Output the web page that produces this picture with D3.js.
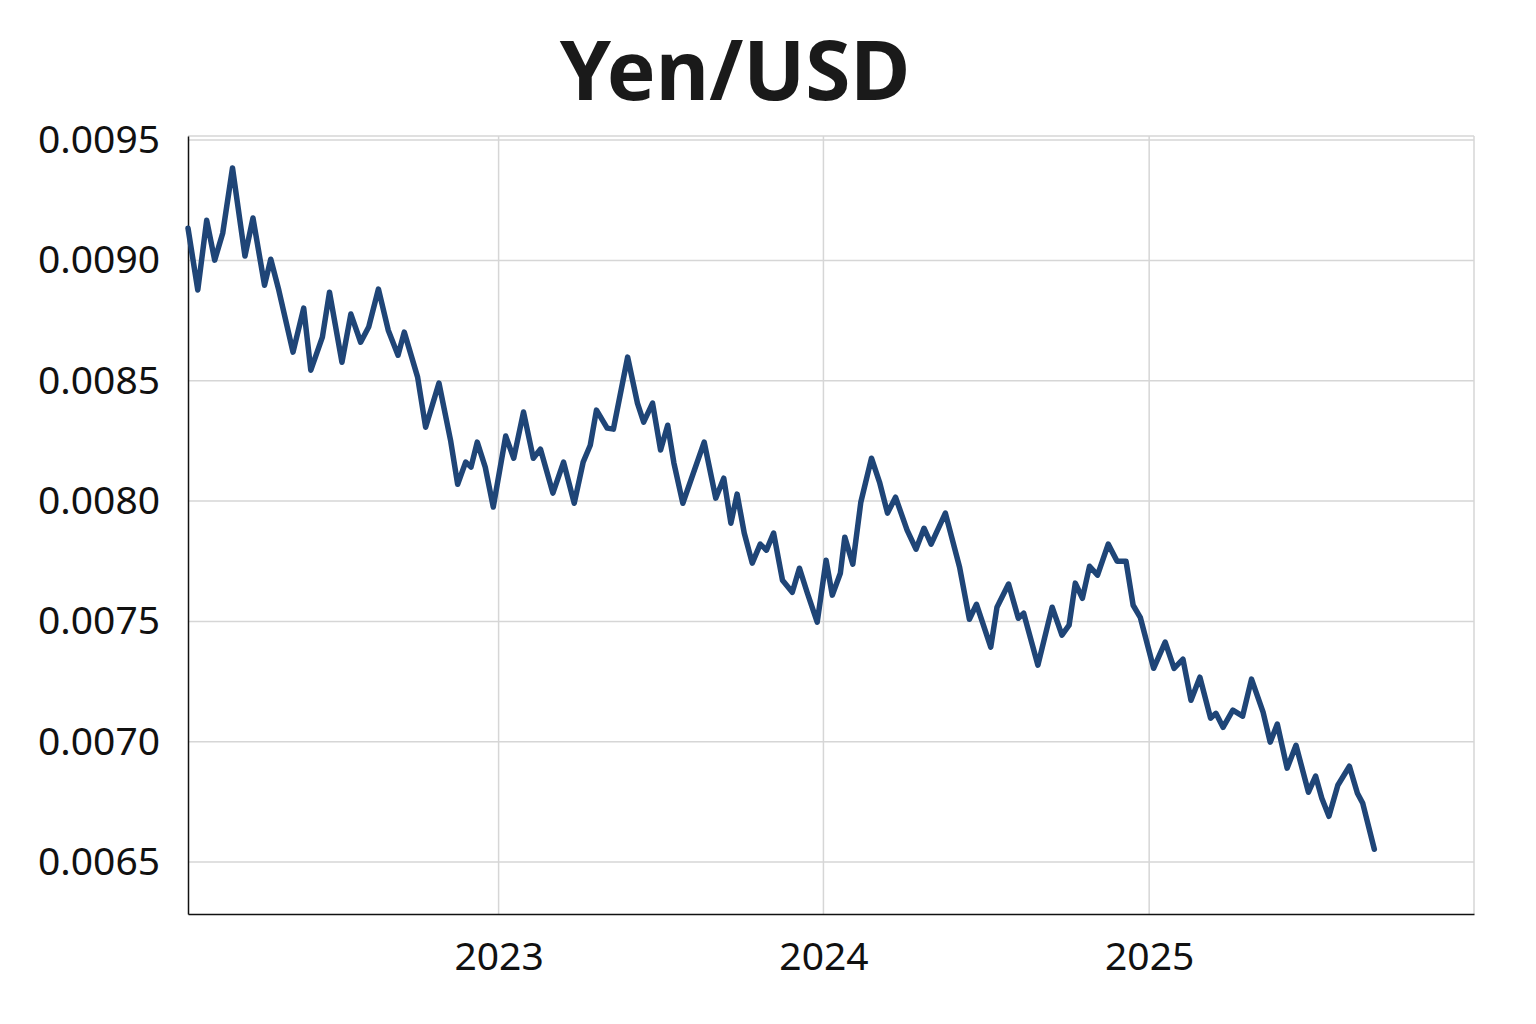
<!DOCTYPE html>
<html>
<head>
<meta charset="utf-8">
<script src="https://cdn.jsdelivr.net/npm/d3@7"></script>
<style>
  html, body { margin: 0; padding: 0; background: #ffffff; }
  svg { display: block; font-family: "Noto Sans", "Open Sans", sans-serif; }
</style>
</head>
<body>
<svg id="chart" width="1536" height="1024"></svg>
<script>
const title = "Yen/USD";
const dates = [
  "2022-01-17","2022-01-28","2022-02-07","2022-02-16","2022-02-25","2022-03-08","2022-03-22","2022-03-31",
  "2022-04-13","2022-04-20","2022-04-29","2022-05-15","2022-05-27","2022-06-04","2022-06-17","2022-06-25",
  "2022-07-09","2022-07-19","2022-07-30","2022-08-08","2022-08-19","2022-08-30","2022-09-10","2022-09-17",
  "2022-10-02","2022-10-11","2022-10-26","2022-11-08","2022-11-16","2022-11-25","2022-12-01","2022-12-08",
  "2022-12-17","2022-12-26","2023-01-09","2023-01-18","2023-01-29","2023-02-09","2023-02-17","2023-03-03",
  "2023-03-15","2023-03-27","2023-04-06","2023-04-14","2023-04-21","2023-05-03","2023-05-10","2023-05-26",
  "2023-06-06","2023-06-13","2023-06-23","2023-07-02","2023-07-10","2023-07-17","2023-07-27","2023-08-20",
  "2023-09-02","2023-09-11","2023-09-19","2023-09-26","2023-10-04","2023-10-13","2023-10-22","2023-10-29",
  "2023-11-06","2023-11-16","2023-11-27","2023-12-05","2023-12-14","2023-12-25","2024-01-04","2024-01-11",
  "2024-01-20","2024-01-25","2024-02-03","2024-02-12","2024-02-24","2024-03-04","2024-03-13","2024-03-22",
  "2024-04-04","2024-04-14","2024-04-23","2024-05-01","2024-05-17","2024-06-02","2024-06-13","2024-06-21",
  "2024-07-07","2024-07-14","2024-07-27","2024-08-07","2024-08-13","2024-08-29","2024-09-14","2024-09-25",
  "2024-10-03","2024-10-10","2024-10-18","2024-10-26","2024-11-04","2024-11-16","2024-11-26","2024-12-06",
  "2024-12-14","2024-12-22","2025-01-06","2025-01-19","2025-01-29","2025-02-08","2025-02-17","2025-02-27",
  "2025-03-11","2025-03-17","2025-03-25","2025-04-05","2025-04-16","2025-04-26","2025-05-09","2025-05-17",
  "2025-05-25","2025-06-05","2025-06-15","2025-06-29","2025-07-07","2025-07-14","2025-07-22","2025-08-01",
  "2025-08-14","2025-08-23","2025-08-29","2025-09-11"
];
const rates = [
  0.009134,0.008877,0.009167,0.009001,0.009113,0.009384,0.009018,0.009176,
  0.008897,0.009005,0.008877,0.008619,0.008802,0.008544,0.008681,0.008868,
  0.008577,0.008777,0.008660,0.008723,0.008881,0.008710,0.008606,0.008702,
  0.008515,0.008307,0.008490,0.008253,0.008070,0.008162,0.008141,0.008245,
  0.008141,0.007975,0.008270,0.008178,0.008370,0.008178,0.008216,0.008033,
  0.008162,0.007991,0.008162,0.008232,0.008378,0.008303,0.008299,0.008598,
  0.008407,0.008328,0.008407,0.008212,0.008315,0.008158,0.007991,0.008245,
  0.008012,0.008095,0.007908,0.008029,0.007867,0.007742,0.007821,0.007796,
  0.007867,0.007671,0.007621,0.007721,0.007617,0.007497,0.007754,0.007609,
  0.007700,0.007850,0.007738,0.007995,0.008178,0.008079,0.007950,0.008016,
  0.007879,0.007800,0.007887,0.007821,0.007950,0.007725,0.007509,0.007571,
  0.007393,0.007559,0.007655,0.007513,0.007534,0.007318,0.007559,0.007443,
  0.007484,0.007659,0.007596,0.007729,0.007692,0.007821,0.007750,0.007750,
  0.007567,0.007517,0.007305,0.007414,0.007305,0.007343,0.007172,0.007268,
  0.007098,0.007118,0.007060,0.007131,0.007106,0.007260,0.007123,0.006998,
  0.007073,0.006890,0.006985,0.006790,0.006857,0.006765,0.006690,0.006819,
  0.006898,0.006786,0.006744,0.006553
];
const yTicks = [0.0065, 0.0070, 0.0075, 0.0080, 0.0085, 0.0090, 0.0095];
const xTickYears = ["2023-01-01", "2024-01-01", "2025-01-01"];
const xDomain = ["2022-01-17", "2026-01-01"];
const yDomain = [0.006284, 0.009517];

(function () {
const parse = d3.utcParse("%Y-%m-%d");
const data = dates.map((d, i) => ({ date: parse(d), value: rates[i] }));

const svg = d3.select("#chart");
const mLeft = 188, mRight = 1474, mTop = 136, mBottom = 914;

const x = d3.scaleUtc().domain(xDomain.map(parse)).range([mLeft, mRight]);
const y = d3.scaleLinear().domain(yDomain).range([mBottom, mTop]);

// title
svg.append("text")
  .attr("x", 735).attr("y", 100)
  .attr("text-anchor", "middle")
  .attr("font-size", 82).attr("font-weight", 700)
  .attr("fill", "#1a1a1a")
  .text(title);

// grid: horizontal
svg.append("g").selectAll("line").data(yTicks).join("line")
  .attr("x1", mLeft).attr("x2", mRight)
  .attr("y1", d => y(d)).attr("y2", d => y(d))
  .attr("stroke", "#d6d6d6").attr("stroke-width", 1.5);
// grid: vertical
svg.append("g").selectAll("line").data(xTickYears.map(parse)).join("line")
  .attr("x1", d => x(d)).attr("x2", d => x(d))
  .attr("y1", mTop).attr("y2", mBottom)
  .attr("stroke", "#d6d6d6").attr("stroke-width", 1.5);
// top and right frame
svg.append("line").attr("x1", mLeft).attr("x2", mRight).attr("y1", mTop).attr("y2", mTop)
  .attr("stroke", "#d6d6d6").attr("stroke-width", 1.5);
svg.append("line").attr("x1", mRight).attr("x2", mRight).attr("y1", mTop).attr("y2", mBottom)
  .attr("stroke", "#d6d6d6").attr("stroke-width", 1.5);

// axes
const yAxis = d3.axisLeft(y).tickValues(yTicks).tickFormat(d3.format(".4f")).tickSize(0).tickPadding(28);
const gy = svg.append("g").attr("transform", `translate(${mLeft},0)`).call(yAxis);
gy.select(".domain").attr("stroke", "#111").attr("stroke-width", 1.5);
gy.selectAll("text").attr("font-size", 39).attr("fill", "#111").attr("font-family", "Noto Sans, sans-serif");

const xAxis = d3.axisBottom(x).tickValues(xTickYears.map(parse)).tickFormat(d3.utcFormat("%Y")).tickSize(0).tickPadding(28);
const gx = svg.append("g").attr("transform", `translate(0,${mBottom})`).call(xAxis);
gx.select(".domain").attr("stroke", "#111").attr("stroke-width", 1.5);
gx.selectAll("text").attr("font-size", 39).attr("fill", "#111").attr("font-family", "Noto Sans, sans-serif");

// line
const line = d3.line().x(d => x(d.date)).y(d => y(d.value));
svg.append("path").datum(data)
  .attr("d", line)
  .attr("fill", "none")
  .attr("stroke", "#1f4577")
  .attr("stroke-width", 5.5)
  .attr("stroke-linejoin", "round")
  .attr("stroke-linecap", "round");
})();
</script>
</body>
</html>
